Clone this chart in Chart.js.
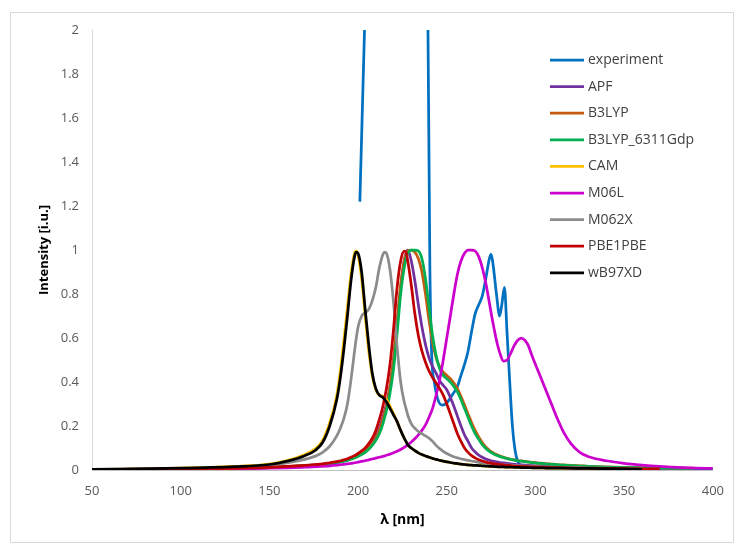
<!DOCTYPE html>
<html>
<head>
<meta charset="utf-8">
<title>Spectra</title>
<script src="https://cdn.jsdelivr.net/npm/chart.js@4/dist/chart.umd.min.js"></script>
<style>
  html, body { margin: 0; padding: 0; background: #fff; overflow: hidden; }
  #wrap { width: 737px; height: 544px; }
</style>
</head>
<body>
<div id="wrap"><canvas id="spectra" width="737" height="544"></canvas></div>
<script>
// wavelength grid (nm) shared by the calculated spectra
const wlCalc = [
  50, 100, 130, 150, 160, 170, 176, 180, 184, 188,
  190, 192, 194, 196, 198, 199, 200, 202, 204, 206,
  208, 210, 212, 214, 215, 216, 218, 220, 222, 224,
  226, 227, 228, 230, 232, 234, 236, 238, 240, 242,
  244, 246, 248, 250, 252, 254, 256, 258, 260, 262,
  264, 266, 268, 270, 272, 274, 276, 278, 280, 282,
  284, 286, 288, 290, 292, 294, 296, 298, 300, 303,
  306, 309, 312, 316, 320, 325, 330, 340, 350, 360,
  370, 380, 390, 400
];

// measured spectrum has its own sampling (goes far above the axis max)
const wlExp = [
  201, 210, 222, 234, 240.5, 241.5, 243, 245, 247.5, 250,
  253, 256, 258, 260, 262, 264, 266, 268.5, 270, 272,
  274, 275, 276, 278, 279.8, 281, 282.5, 284, 285.5, 287,
  288.5, 290, 292, 300, 320, 350, 380, 400
];
const intExperiment = [
  1.22, 3.8, 6.2, 6.6, 0.9, 0.52, 0.40, 0.32, 0.295, 0.305,
  0.34, 0.38, 0.43, 0.48, 0.54, 0.63, 0.71, 0.76, 0.79, 0.87,
  0.96, 0.98, 0.94, 0.80, 0.70, 0.75, 0.83, 0.62, 0.40, 0.20,
  0.09, 0.04, 0.02, 0.012, 0.009, 0.007, 0.006, 0.005
];

const intAPF = [
  0.002, 0.004, 0.007, 0.011, 0.015, 0.020, 0.023, 0.026, 0.030, 0.035,
  0.038, 0.042, 0.046, 0.052, 0.058, 0.062, 0.066, 0.076, 0.088, 0.104,
  0.125, 0.152, 0.19, 0.24, 0.27, 0.30, 0.38, 0.50, 0.66, 0.83,
  0.95, 0.985, 1.0, 0.95, 0.86, 0.75, 0.65, 0.57, 0.51, 0.47,
  0.44, 0.405, 0.385, 0.365, 0.33, 0.29, 0.245, 0.20, 0.16, 0.13,
  0.10, 0.082, 0.068, 0.058, 0.050, 0.045, 0.040, 0.037, 0.034, 0.032,
  0.030, 0.028, 0.026, 0.024, 0.023, 0.022, 0.021, 0.020, 0.019, 0.018,
  0.017, 0.016, 0.015, 0.014, 0.013, 0.012, 0.011, 0.010, 0.009, 0.008,
  0.007, 0.007, 0.006
];

const intB3LYP = [
  0.002, 0.004, 0.007, 0.011, 0.015, 0.020, 0.023, 0.026, 0.030, 0.035,
  0.038, 0.042, 0.046, 0.051, 0.057, 0.060, 0.065, 0.074, 0.085, 0.100,
  0.120, 0.145, 0.18, 0.23, 0.26, 0.29, 0.38, 0.50, 0.67, 0.84,
  0.95, 0.98, 0.995, 1.0, 0.99, 0.96, 0.90, 0.80, 0.68, 0.58,
  0.51, 0.47, 0.445, 0.43, 0.415, 0.395, 0.37, 0.335, 0.295, 0.255,
  0.215, 0.18, 0.15, 0.125, 0.105, 0.09, 0.079, 0.070, 0.063, 0.058,
  0.053, 0.049, 0.046, 0.043, 0.041, 0.039, 0.037, 0.035, 0.033, 0.031,
  0.029, 0.027, 0.025, 0.023, 0.021, 0.019, 0.017, 0.014, 0.012, 0.011,
  0.010, 0.009, 0.008
];

const intB3LYP6311 = [
  0.002, 0.004, 0.007, 0.011, 0.014, 0.019, 0.022, 0.025, 0.029, 0.034,
  0.037, 0.040, 0.044, 0.049, 0.055, 0.058, 0.062, 0.070, 0.080, 0.094,
  0.112, 0.135, 0.165, 0.21, 0.24, 0.27, 0.35, 0.46, 0.62, 0.80,
  0.92, 0.96, 0.985, 1.0, 1.0, 0.995, 0.96, 0.87, 0.74, 0.61,
  0.52, 0.46, 0.43, 0.415, 0.40, 0.38, 0.355, 0.32, 0.28, 0.24,
  0.20, 0.165, 0.14, 0.115, 0.098, 0.085, 0.075, 0.067, 0.061, 0.056,
  0.052, 0.048, 0.045, 0.042, 0.040, 0.038, 0.036, 0.034, 0.032, 0.030,
  0.028, 0.026, 0.024, 0.022, 0.020, 0.018, 0.016, 0.013, 0.011, 0.010,
  0.009, 0.008, 0.007
];

const intCAM = [
  0.003, 0.008, 0.016, 0.027, 0.043, 0.070, 0.097, 0.135, 0.215, 0.34,
  0.45, 0.59, 0.74, 0.89, 0.985, 0.995, 0.975, 0.87, 0.70, 0.54,
  0.43, 0.365, 0.34, 0.335, 0.33, 0.32, 0.29, 0.255, 0.22, 0.18,
  0.145, 0.13, 0.115, 0.10, 0.088, 0.078, 0.070, 0.064, 0.058, 0.053,
  0.048, 0.044, 0.040, 0.037, 0.034, 0.031, 0.029, 0.027, 0.025, 0.023,
  0.022, 0.021, 0.020, 0.019, 0.018, 0.017, 0.016, 0.015, 0.014, 0.014,
  0.013, 0.013, 0.012, 0.012, 0.011, 0.011, 0.011, 0.010, 0.010, 0.010,
  0.009, 0.009, 0.009, 0.008, 0.008, 0.007, 0.007, 0.006, 0.005, 0.004
];

const intM06L = [
  0.001, 0.003, 0.005, 0.008, 0.010, 0.013, 0.015, 0.017, 0.019, 0.022,
  0.024, 0.026, 0.028, 0.030, 0.033, 0.034, 0.036, 0.039, 0.042, 0.046,
  0.050, 0.054, 0.058, 0.062, 0.064, 0.067, 0.072, 0.078, 0.085, 0.093,
  0.103, 0.108, 0.114, 0.127, 0.142, 0.160, 0.18, 0.205, 0.24, 0.28,
  0.34, 0.41, 0.50, 0.60, 0.70, 0.80, 0.89, 0.95, 0.985, 1.0,
  1.0, 0.995, 0.97, 0.92, 0.85, 0.76, 0.67, 0.59, 0.53, 0.495,
  0.50, 0.53, 0.565, 0.59, 0.60, 0.59, 0.565, 0.52, 0.48, 0.42,
  0.36, 0.30, 0.24, 0.17, 0.12, 0.08, 0.06, 0.042, 0.030, 0.022,
  0.016, 0.012, 0.009, 0.007
];

const intM062X = [
  0.003, 0.007, 0.013, 0.022, 0.032, 0.048, 0.063, 0.080, 0.108, 0.155,
  0.19, 0.235, 0.30, 0.41, 0.54, 0.60, 0.65, 0.70, 0.715, 0.73,
  0.77, 0.83, 0.92, 0.98, 0.99, 0.985, 0.91, 0.76, 0.56, 0.40,
  0.31, 0.28, 0.25, 0.21, 0.19, 0.175, 0.165, 0.155, 0.145, 0.13,
  0.112, 0.097, 0.085, 0.075, 0.067, 0.060, 0.055, 0.051, 0.047, 0.044,
  0.041, 0.038, 0.035, 0.033, 0.031, 0.029, 0.027, 0.026, 0.025, 0.024,
  0.023, 0.022, 0.021, 0.020, 0.019, 0.018, 0.018, 0.017, 0.016, 0.015,
  0.014, 0.013, 0.013, 0.012, 0.011, 0.010, 0.009, 0.008, 0.007, 0.006
];

const intPBE1PBE = [
  0.002, 0.004, 0.007, 0.012, 0.016, 0.021, 0.025, 0.028, 0.033, 0.038,
  0.042, 0.046, 0.051, 0.058, 0.065, 0.070, 0.075, 0.087, 0.100, 0.120,
  0.145, 0.18, 0.23, 0.29, 0.33, 0.37, 0.48, 0.64, 0.83, 0.95,
  0.995, 0.99, 0.95, 0.84, 0.71, 0.61, 0.54, 0.49, 0.45, 0.42,
  0.395, 0.37, 0.34, 0.30, 0.255, 0.21, 0.165, 0.13, 0.10, 0.08,
  0.065, 0.055, 0.047, 0.041, 0.036, 0.032, 0.029, 0.027, 0.025, 0.023,
  0.021, 0.020, 0.018, 0.017, 0.016, 0.015, 0.015, 0.014, 0.014, 0.013,
  0.012, 0.011, 0.011, 0.010, 0.009, 0.008, 0.008, 0.007, 0.006, 0.005,
  0.005
];

const intWB97XD = [
  0.003, 0.008, 0.015, 0.025, 0.040, 0.065, 0.090, 0.125, 0.20, 0.32,
  0.42, 0.55, 0.70, 0.86, 0.97, 0.99, 0.985, 0.90, 0.73, 0.57,
  0.44, 0.37, 0.34, 0.33, 0.32, 0.31, 0.28, 0.25, 0.22, 0.18,
  0.145, 0.13, 0.115, 0.10, 0.088, 0.078, 0.070, 0.064, 0.058, 0.053,
  0.048, 0.044, 0.040, 0.037, 0.034, 0.031, 0.029, 0.027, 0.025, 0.023,
  0.022, 0.021, 0.020, 0.019, 0.018, 0.017, 0.016, 0.015, 0.014, 0.014,
  0.013, 0.013, 0.012, 0.012, 0.011, 0.011, 0.011, 0.010, 0.010, 0.010,
  0.009, 0.009, 0.009, 0.008, 0.008, 0.007, 0.007, 0.006, 0.005, 0.004
];

const seriesNames = ['experiment', 'APF', 'B3LYP', 'B3LYP_6311Gdp', 'CAM', 'M06L', 'M062X', 'PBE1PBE', 'wB97XD'];
const seriesColors = ['#0070C0', '#7030A0', '#C55A11', '#00B050', '#FFC000', '#CC00CC', '#8C8C8C', '#C00000', '#000000'];
const seriesX = [wlExp, wlCalc, wlCalc, wlCalc, wlCalc, wlCalc, wlCalc, wlCalc, wlCalc];
const seriesY = [intExperiment, intAPF, intB3LYP, intB3LYP6311, intCAM, intM06L, intM062X, intPBE1PBE, intWB97XD];

const FONT = '"Open Sans", "DejaVu Sans", sans-serif';

// white page + thin grey frame like the office chart area
const framePlugin = {
    id: 'frame',
    beforeDraw(chart) {
        const ctx = chart.ctx;
        ctx.save();
        ctx.fillStyle = '#ffffff';
        ctx.fillRect(0, 0, chart.width, chart.height);
        ctx.strokeStyle = '#D9D9D9';
        ctx.lineWidth = 1;
        ctx.strokeRect(10.5, 12.5, 723, 530);
        ctx.restore();
    }
};

// legend stacked in the top right corner of the plot
const sideLegend = {
    id: 'sideLegend',
    afterDatasetsDraw(chart) {
        const ctx = chart.ctx;
        ctx.save();
        ctx.font = '14px ' + FONT;
        ctx.textBaseline = 'middle';
        chart.data.datasets.forEach((ds, i) => {
            const y = 60 + i * 26.6;
            ctx.strokeStyle = ds.borderColor;
            ctx.lineWidth = 2.75;
            ctx.beginPath();
            ctx.moveTo(550, y);
            ctx.lineTo(584, y);
            ctx.stroke();
            ctx.fillStyle = '#404040';
            ctx.fillText(ds.label, 588, y);
        });
        ctx.restore();
    }
};

const datasets = seriesNames.map((name, i) => ({
    label: name,
    data: seriesY[i].map((v, j) => ({ x: seriesX[i][j], y: v })),
    borderColor: seriesColors[i],
    backgroundColor: seriesColors[i],
    borderWidth: 2.75,
    pointRadius: 0,
    fill: false,
    cubicInterpolationMode: 'monotone',
    order: seriesNames.length - i  // later series drawn on top
}));

new Chart(document.getElementById('spectra'), {
    type: 'line',
    data: { datasets: datasets },
    options: {
        responsive: false,
        animation: false,
        devicePixelRatio: 1,
        layout: { padding: { left: 10, top: 30, right: 20, bottom: 10 } },
        plugins: {
            legend: { display: false },
            tooltip: { enabled: false }
        },
        scales: {
            x: {
                type: 'linear',
                min: 50,
                max: 400,
                ticks: { stepSize: 50, color: '#595959', font: { family: FONT, size: 13 }, padding: 13, maxRotation: 0 },
                grid: { display: false, drawTicks: false },
                border: { display: true, color: '#BFBFBF', width: 1 },
                title: {
                    display: true, text: 'λ [nm]', color: '#000',
                    font: { family: FONT, size: 14, weight: 'bold' },
                    padding: { top: 6, bottom: 6 }
                },
                afterFit(s) { s.height = 64; }
            },
            y: {
                type: 'linear',
                min: 0,
                max: 2,
                ticks: {
                    stepSize: 0.2, color: '#595959', font: { family: FONT, size: 13 }, padding: 13,
                    callback: v => String(+v.toFixed(1))
                },
                grid: { display: false, drawTicks: false },
                border: { display: true, color: '#D9D9D9', width: 1 },
                title: {
                    display: true, text: 'Intensity [i.u.]', color: '#000',
                    font: { family: FONT, size: 13, weight: 'bold' },
                    padding: { top: 26, bottom: 26 }
                },
                afterFit(s) { s.width = 82; }
            }
        }
    },
    plugins: [framePlugin, sideLegend]
});
</script>
</body>
</html>
